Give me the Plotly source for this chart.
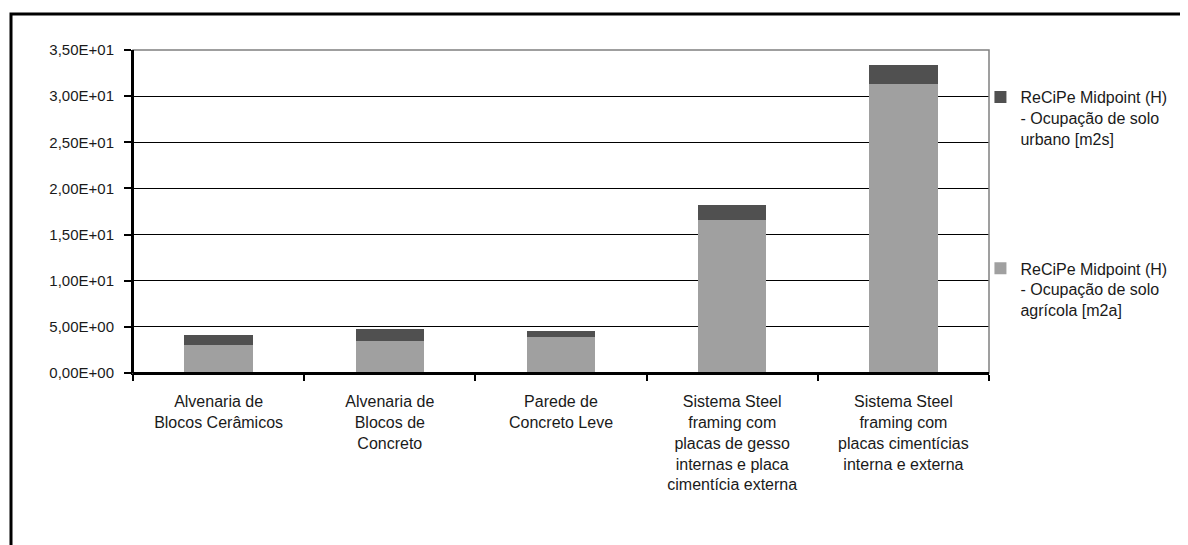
import plotly.graph_objects as go

categories = [
    "Alvenaria de<br>Blocos Cerâmicos",
    "Alvenaria de<br>Blocos de<br>Concreto",
    "Parede de<br>Concreto Leve",
    "Sistema Steel<br>framing com<br>placas de gesso<br>internas e placa<br>cimentícia externa",
    "Sistema Steel<br>framing com<br>placas cimentícias<br>interna e externa",
]
agricola = [3.0, 3.45, 3.9, 16.6, 31.3]
urbano = [1.1, 1.3, 0.65, 1.6, 2.1]

series_names = [
    "ReCiPe Midpoint (H)<br>- Ocupação de solo<br>agrícola [m2a]",
    "ReCiPe Midpoint (H)<br>- Ocupação de solo<br>urbano [m2s]",
]
y_tickvals = [0, 5, 10, 15, 20, 25, 30, 35]
y_ticktext = ["0,00E+00", "5,00E+00", "1,00E+01", "1,50E+01",
              "2,00E+01", "2,50E+01", "3,00E+01", "3,50E+01"]

FONT = "Liberation Sans, Arial, sans-serif"
TXT = "#1a1a1a"

fig = go.Figure()
fig.add_trace(go.Bar(x=categories, y=agricola, name=series_names[0],
                     marker=dict(color="#a0a0a0", line=dict(width=0)),
                     legendgroup="a", legendrank=2))
fig.add_trace(go.Bar(x=categories, y=urbano, name=series_names[1],
                     marker=dict(color="#505050", line=dict(width=0)),
                     legendgroup="b", legendrank=1))

fig.update_layout(
    width=1188, height=545,
    margin=dict(l=125, r=207, t=42, b=180),
    paper_bgcolor="white", plot_bgcolor="white",
    barmode="stack", bargap=0.6,
    font=dict(family=FONT, size=15, color=TXT),
    legend=dict(
        x=0.99, xanchor="left", y=0.907, yanchor="top",
        traceorder="grouped", tracegroupgap=106,
        valign="top", font=dict(family=FONT, size=16, color=TXT),
        itemwidth=30, bgcolor="rgba(0,0,0,0)",
    ),
    xaxis=dict(
        showgrid=False, showline=True, linecolor="black", linewidth=2,
        ticks="outside", tickson="boundaries", ticklen=6, tickcolor="black",
        tickwidth=1.5, tickfont=dict(family=FONT, size=16, color=TXT),
        ticklabelstandoff=13,
    ),
    yaxis=dict(
        range=[0, 35], tickvals=y_tickvals, ticktext=y_ticktext,
        showgrid=True, gridcolor="black", gridwidth=1.3,
        showline=True, linecolor="black", linewidth=2,
        ticks="outside", ticklen=7, tickcolor="black", tickwidth=1.5,
        tickfont=dict(family=FONT, size=15, color=TXT),
        ticklabelstandoff=7,
        zeroline=False,
    ),
    shapes=[
        dict(type="rect", xref="paper", yref="paper", x0=0, x1=1, y0=0, y1=1,
             line=dict(color="#808080", width=1.5), layer="above"),
        dict(type="line", xref="paper", yref="paper", x0=0, x1=0, y0=0, y1=1,
             line=dict(color="black", width=2), layer="above"),
        dict(type="line", xref="paper", yref="paper", x0=0, x1=1, y0=0, y1=0,
             line=dict(color="black", width=2), layer="above"),
        dict(type="rect", xref="paper", yref="paper",
             x0=(11 - 133) / 856, x1=1.4, y0=-1.0, y1=(373 - 14) / 323,
             line=dict(color="black", width=3), layer="below"),
    ],
)

fig.write_html("out.html")
